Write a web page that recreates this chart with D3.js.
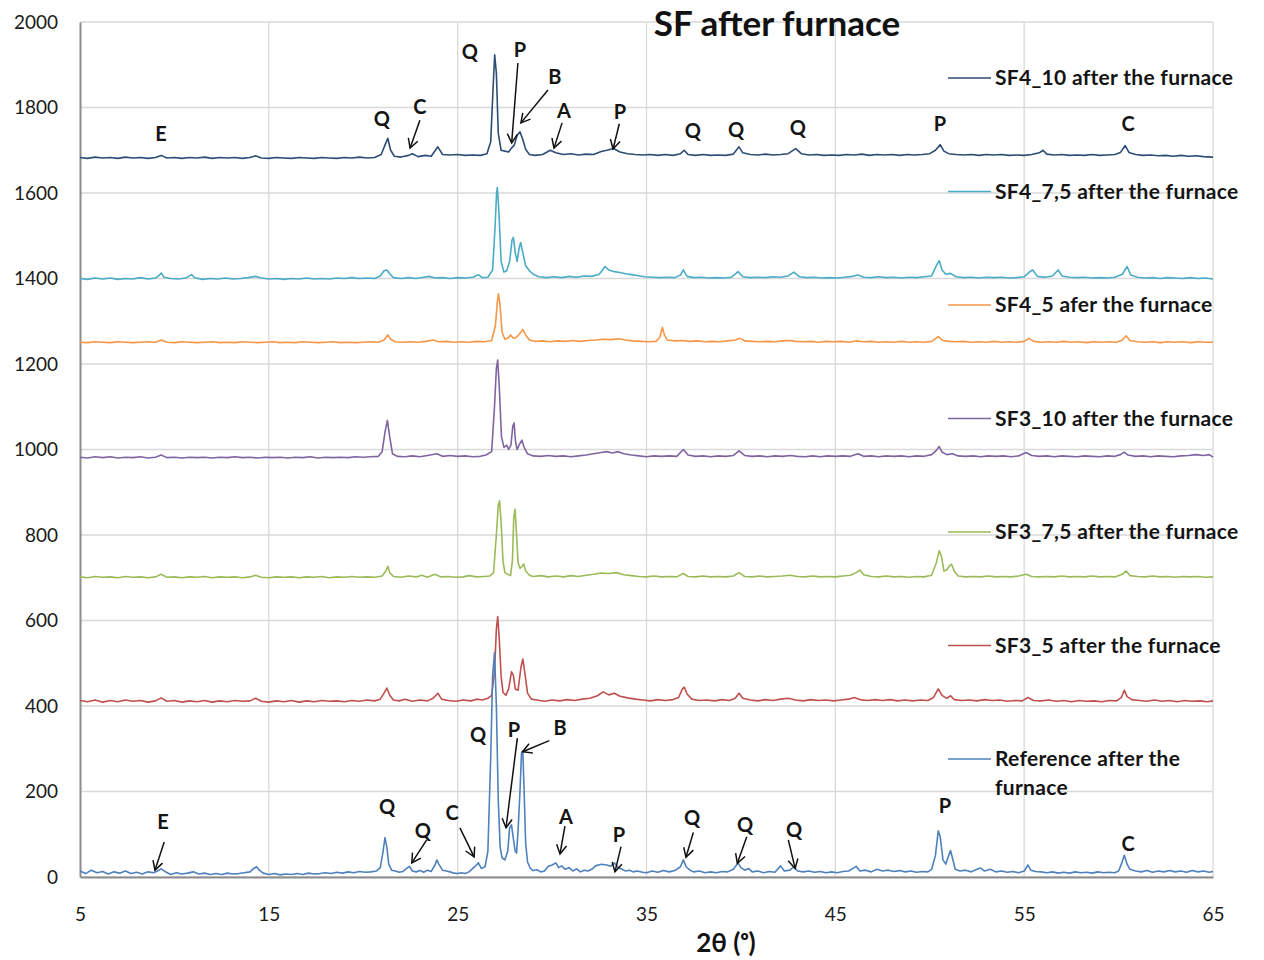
<!DOCTYPE html>
<html>
<head>
<meta charset="utf-8">
<script src="https://cdn.jsdelivr.net/npm/d3@7/dist/d3.min.js"></script>
<style>
  html, body { margin: 0; padding: 0; background: #fff; }
  svg { display: block; }
  text { font-family: Lato, "Open Sans", "DejaVu Sans", sans-serif; }
</style>
</head>
<body>
<svg id="chart" width="1264" height="960"></svg>
<script>
// ---- XRD patterns (2θ in degrees, intensity in counts, vertically offset) ----
const reference = [[5,14],[5.3,8],[5.6,16],[5.9,10],[6.2,13],[6.5,7],[6.8,12],[7.1,9],[7.4,14],[7.7,8],[8.0,11],[8.3,7],[8.6,12],[8.9,10],[9.1,14],[9.3,19],[9.5,13],[9.8,6],[10.1,10],[10.4,7],[10.7,9],[11.0,12],[11.3,7],[11.6,9],[11.9,6],[12.2,8],[12.5,6],[12.8,9],[13.1,7],[13.4,8],[13.7,10],[14.0,12],[14.2,20],[14.35,24],[14.5,16],[14.7,9],[15.0,6],[15.3,8],[15.6,5],[15.9,7],[16.2,6],[16.5,8],[16.8,6],[17.1,9],[17.4,7],[17.7,8],[18.0,10],[18.3,8],[18.6,11],[18.9,9],[19.2,12],[19.5,10],[19.8,13],[20.1,11],[20.4,12],[20.7,14],[20.9,22],[21.05,60],[21.15,92],[21.25,70],[21.35,30],[21.5,16],[21.7,14],[21.9,11],[22.1,13],[22.3,20],[22.45,25],[22.6,14],[22.8,12],[23.0,15],[23.2,11],[23.4,16],[23.6,13],[23.8,28],[23.9,40],[24.0,30],[24.2,16],[24.4,14],[24.6,12],[24.8,9],[25.0,8],[25.2,10],[25.4,8],[25.6,12],[25.8,20],[26.0,28],[26.1,33],[26.25,20],[26.45,24],[26.6,60],[26.75,280],[26.85,470],[26.95,525],[27.05,400],[27.15,180],[27.25,70],[27.35,45],[27.5,40],[27.65,60],[27.75,115],[27.85,122],[27.95,90],[28.05,60],[28.12,56],[28.2,110],[28.3,200],[28.38,290],[28.45,295],[28.52,200],[28.6,80],[28.7,35],[28.85,20],[29.0,15],[29.2,17],[29.4,12],[29.6,14],[29.8,25],[30.0,28],[30.2,33],[30.35,22],[30.5,26],[30.7,18],[30.9,22],[31.1,14],[31.3,19],[31.5,12],[31.7,16],[31.9,14],[32.1,18],[32.3,26],[32.6,30],[32.9,28],[33.1,25],[33.3,33],[33.5,22],[33.7,18],[33.9,14],[34.1,16],[34.3,12],[34.5,14],[34.8,11],[35.0,10],[35.3,14],[35.6,11],[35.9,15],[36.2,12],[36.5,15],[36.8,24],[36.95,40],[37.1,24],[37.3,16],[37.5,12],[37.8,14],[38.1,10],[38.4,12],[38.7,10],[39.0,13],[39.3,12],[39.6,18],[39.85,33],[40.0,22],[40.2,16],[40.4,20],[40.6,12],[40.9,14],[41.2,10],[41.5,13],[41.8,11],[42.1,26],[42.3,14],[42.6,16],[42.8,24],[43.0,14],[43.3,12],[43.6,14],[43.9,11],[44.2,13],[44.5,10],[44.8,12],[45.1,10],[45.4,13],[45.7,14],[46.0,22],[46.1,25],[46.3,14],[46.6,16],[46.9,12],[47.2,18],[47.5,14],[47.8,16],[48.1,13],[48.4,15],[48.7,12],[49.0,14],[49.3,11],[49.6,13],[49.9,12],[50.1,18],[50.3,50],[50.45,108],[50.55,95],[50.7,40],[50.85,30],[51.0,50],[51.1,62],[51.2,45],[51.35,18],[51.6,14],[51.9,16],[52.2,12],[52.5,18],[52.7,21],[52.9,14],[53.2,18],[53.5,12],[53.8,14],[54.1,11],[54.4,13],[54.7,10],[55.0,14],[55.2,28],[55.35,16],[55.6,13],[55.9,12],[56.2,10],[56.5,12],[56.8,9],[57.1,11],[57.4,9],[57.7,12],[58.0,10],[58.3,11],[58.6,9],[58.9,12],[59.2,10],[59.5,11],[59.8,10],[60.0,14],[60.15,30],[60.3,51],[60.45,30],[60.6,18],[60.9,14],[61.2,12],[61.5,15],[61.8,11],[62.1,14],[62.4,12],[62.7,15],[63.0,12],[63.3,14],[63.6,11],[63.9,15],[64.2,12],[64.5,14],[64.8,11],[65,13]];

const sf3_5 = [[5,413],[5.4,410],[5.8,414],[6.2,409],[6.6,413],[7.0,410],[7.4,414],[7.8,411],[8.2,413],[8.6,409],[9.0,412],[9.3,419],[9.6,411],[10.0,413],[10.4,409],[10.8,412],[11.2,410],[11.6,413],[12.0,409],[12.4,412],[12.8,410],[13.2,413],[13.6,411],[14.0,412],[14.3,418],[14.6,411],[15.0,409],[15.4,412],[15.8,410],[16.2,413],[16.6,409],[17.0,412],[17.4,410],[17.8,413],[18.2,411],[18.6,412],[19.0,410],[19.4,413],[19.8,411],[20.2,414],[20.6,412],[20.9,416],[21.1,430],[21.25,442],[21.4,425],[21.6,414],[21.9,412],[22.2,416],[22.6,411],[23.0,414],[23.4,412],[23.7,418],[23.95,430],[24.15,416],[24.5,413],[24.9,411],[25.3,414],[25.7,412],[26.0,416],[26.3,414],[26.6,418],[26.8,425],[26.95,480],[27.05,580],[27.12,609],[27.2,560],[27.3,470],[27.4,432],[27.55,425],[27.7,440],[27.85,480],[27.95,472],[28.05,440],[28.2,437],[28.35,490],[28.45,510],[28.55,480],[28.7,430],[28.9,416],[29.2,414],[29.6,411],[30.0,414],[30.4,412],[30.8,415],[31.2,413],[31.6,416],[32.0,418],[32.4,424],[32.7,433],[33.0,426],[33.3,430],[33.6,423],[34.0,419],[34.4,416],[34.8,414],[35.2,412],[35.6,415],[36.0,413],[36.4,415],[36.7,420],[36.9,440],[37.0,444],[37.15,428],[37.4,416],[37.8,413],[38.2,414],[38.6,412],[39.0,415],[39.4,413],[39.7,418],[39.9,430],[40.1,418],[40.5,414],[40.9,412],[41.3,415],[41.7,413],[42.1,416],[42.5,418],[42.9,414],[43.3,412],[43.7,415],[44.1,413],[44.5,414],[44.9,412],[45.3,414],[45.7,416],[46.0,420],[46.3,415],[46.7,413],[47.1,415],[47.5,413],[47.9,415],[48.3,412],[48.7,414],[49.1,412],[49.5,414],[49.9,413],[50.2,420],[50.45,440],[50.65,425],[50.9,418],[51.1,424],[51.3,415],[51.7,413],[52.1,414],[52.5,412],[52.9,415],[53.3,413],[53.7,414],[54.1,411],[54.5,413],[54.9,412],[55.2,420],[55.5,413],[55.9,412],[56.3,414],[56.7,411],[57.1,413],[57.5,410],[57.9,413],[58.3,411],[58.7,412],[59.1,410],[59.5,413],[59.9,412],[60.15,420],[60.3,437],[60.45,422],[60.7,415],[61.1,413],[61.5,411],[61.9,414],[62.3,411],[62.7,413],[63.1,410],[63.5,413],[63.9,411],[64.3,412],[64.7,410],[65,412]];

const sf3_75 = [[5,702],[5.4,700],[5.8,703],[6.2,701],[6.6,702],[7.0,700],[7.4,703],[7.8,701],[8.2,702],[8.6,700],[9.0,702],[9.3,708],[9.6,701],[10.0,702],[10.4,700],[10.8,702],[11.2,701],[11.6,703],[12.0,700],[12.4,702],[12.8,701],[13.2,702],[13.6,700],[14.0,702],[14.3,706],[14.6,701],[15.0,700],[15.4,702],[15.8,701],[16.2,702],[16.6,700],[17.0,702],[17.4,701],[17.8,703],[18.2,700],[18.6,702],[19.0,701],[19.4,703],[19.8,701],[20.2,702],[20.6,701],[21.0,704],[21.2,716],[21.3,727],[21.4,712],[21.6,703],[22.0,701],[22.4,704],[22.8,702],[23.1,706],[23.4,701],[23.8,708],[24.1,702],[24.5,703],[24.9,701],[25.3,702],[25.6,705],[26.0,702],[26.4,703],[26.7,704],[26.9,712],[27.05,800],[27.15,870],[27.22,880],[27.3,830],[27.4,740],[27.5,712],[27.65,708],[27.8,705],[27.9,740],[27.97,840],[28.04,860],[28.12,800],[28.2,735],[28.3,722],[28.4,726],[28.5,732],[28.6,716],[28.8,706],[29.0,703],[29.4,705],[29.8,702],[30.2,704],[30.6,702],[31.0,705],[31.4,703],[31.8,706],[32.2,708],[32.6,711],[33.0,710],[33.4,712],[33.8,707],[34.2,705],[34.6,703],[35.0,702],[35.4,704],[35.8,702],[36.2,703],[36.6,702],[36.95,710],[37.2,703],[37.6,702],[38.0,704],[38.4,702],[38.8,703],[39.2,702],[39.6,704],[39.9,712],[40.2,703],[40.6,702],[41.0,704],[41.4,702],[41.8,703],[42.2,704],[42.6,706],[43.0,703],[43.4,702],[43.8,704],[44.2,702],[44.6,703],[45.0,702],[45.4,704],[45.8,706],[46.1,712],[46.3,718],[46.5,707],[46.9,703],[47.3,702],[47.7,704],[48.1,702],[48.5,703],[48.9,701],[49.3,703],[49.7,702],[50.1,706],[50.35,735],[50.5,763],[50.62,750],[50.75,716],[50.9,718],[51.05,728],[51.15,732],[51.3,715],[51.5,704],[51.9,702],[52.3,703],[52.7,702],[53.1,704],[53.5,702],[53.9,703],[54.3,702],[54.7,704],[55.1,708],[55.4,703],[55.8,702],[56.2,703],[56.6,702],[57.0,704],[57.4,702],[57.8,703],[58.2,702],[58.6,704],[59.0,702],[59.4,703],[59.8,702],[60.2,708],[60.4,716],[60.6,705],[61.0,703],[61.4,702],[61.8,704],[62.2,702],[62.6,703],[63.0,701],[63.4,703],[63.8,702],[64.2,703],[64.6,701],[65,702]];

const sf3_10 = [[5,982],[5.4,980],[5.8,983],[6.2,981],[6.6,983],[7.0,980],[7.4,982],[7.8,981],[8.2,983],[8.6,980],[9.0,982],[9.3,987],[9.6,981],[10.0,982],[10.4,980],[10.8,982],[11.2,981],[11.6,982],[12.0,980],[12.4,982],[12.8,981],[13.2,983],[13.6,981],[14.0,982],[14.4,980],[14.8,982],[15.2,981],[15.6,982],[16.0,980],[16.4,982],[16.8,981],[17.2,983],[17.6,980],[18.0,982],[18.4,981],[18.8,982],[19.2,981],[19.6,983],[20.0,982],[20.4,983],[20.8,984],[21.0,995],[21.15,1040],[21.28,1068],[21.4,1030],[21.55,990],[21.8,984],[22.2,983],[22.6,985],[23.0,983],[23.4,986],[23.9,990],[24.2,984],[24.6,986],[25.0,984],[25.4,985],[25.8,983],[26.2,984],[26.5,987],[26.8,995],[26.95,1100],[27.05,1190],[27.12,1209],[27.2,1150],[27.32,1030],[27.45,1005],[27.6,1010],[27.7,1000],[27.82,1010],[27.92,1055],[27.99,1062],[28.06,1020],[28.15,1000],[28.25,1010],[28.4,1022],[28.52,1005],[28.7,990],[29.0,985],[29.4,984],[29.8,986],[30.2,984],[30.6,985],[31.0,983],[31.4,985],[31.8,987],[32.2,990],[32.6,993],[32.9,995],[33.2,992],[33.5,995],[33.8,990],[34.2,987],[34.6,985],[35.0,983],[35.4,985],[35.8,984],[36.2,985],[36.6,984],[36.95,1000],[37.2,987],[37.6,984],[38.0,985],[38.4,983],[38.8,985],[39.2,984],[39.6,986],[39.9,997],[40.2,986],[40.6,984],[41.0,985],[41.4,983],[41.8,985],[42.2,984],[42.6,986],[43.0,984],[43.4,983],[43.8,985],[44.2,983],[44.6,985],[45.0,984],[45.4,985],[45.8,984],[46.2,990],[46.5,984],[46.9,985],[47.3,983],[47.7,985],[48.1,984],[48.5,985],[48.9,983],[49.3,985],[49.7,984],[50.1,988],[50.35,998],[50.5,1007],[50.65,994],[50.9,988],[51.2,990],[51.5,985],[51.9,984],[52.3,985],[52.7,983],[53.1,985],[53.5,984],[53.9,985],[54.3,983],[54.7,985],[55.1,993],[55.4,986],[55.8,984],[56.2,985],[56.6,983],[57.0,985],[57.4,984],[57.8,983],[58.2,985],[58.6,984],[59.0,983],[59.4,985],[59.8,984],[60.1,988],[60.3,994],[60.5,987],[60.9,984],[61.3,985],[61.7,983],[62.1,985],[62.5,984],[62.9,983],[63.3,985],[63.7,986],[64.1,988],[64.5,986],[64.8,988],[65,982]];

const sf4_5 = [[5,1251],[5.4,1250],[5.8,1252],[6.2,1251],[6.6,1250],[7.0,1252],[7.4,1251],[7.8,1250],[8.2,1251],[8.6,1252],[9.0,1251],[9.3,1256],[9.6,1251],[10.0,1250],[10.4,1252],[10.8,1251],[11.2,1250],[11.6,1251],[12.0,1252],[12.4,1250],[12.8,1251],[13.2,1250],[13.6,1252],[14.0,1251],[14.4,1250],[14.8,1251],[15.2,1252],[15.6,1250],[16.0,1251],[16.4,1250],[16.8,1252],[17.2,1251],[17.6,1250],[18.0,1251],[18.4,1252],[18.8,1250],[19.2,1251],[19.6,1250],[20.0,1251],[20.4,1252],[20.8,1251],[21.1,1256],[21.3,1268],[21.45,1258],[21.7,1252],[22.1,1251],[22.5,1252],[22.9,1251],[23.3,1253],[23.7,1256],[24.0,1252],[24.4,1253],[24.8,1251],[25.2,1252],[25.6,1251],[26.0,1253],[26.4,1252],[26.8,1255],[27.0,1290],[27.1,1345],[27.16,1364],[27.24,1340],[27.35,1275],[27.5,1258],[27.7,1262],[27.8,1268],[27.95,1260],[28.1,1262],[28.3,1272],[28.45,1281],[28.6,1268],[28.8,1256],[29.1,1253],[29.5,1254],[29.9,1252],[30.3,1254],[30.7,1253],[31.1,1255],[31.5,1253],[31.9,1255],[32.3,1256],[32.7,1258],[33.1,1257],[33.5,1259],[33.9,1256],[34.3,1254],[34.7,1253],[35.1,1252],[35.5,1253],[35.7,1262],[35.84,1286],[35.95,1268],[36.1,1256],[36.5,1254],[36.9,1255],[37.3,1253],[37.7,1254],[38.1,1252],[38.5,1253],[38.9,1252],[39.3,1254],[39.7,1256],[39.95,1260],[40.2,1254],[40.6,1253],[41.0,1252],[41.4,1253],[41.8,1252],[42.2,1254],[42.6,1255],[42.9,1253],[43.3,1252],[43.7,1253],[44.1,1251],[44.5,1253],[44.9,1252],[45.3,1253],[45.7,1251],[46.1,1254],[46.5,1252],[46.9,1253],[47.3,1251],[47.7,1252],[48.1,1251],[48.5,1253],[48.9,1251],[49.3,1252],[49.7,1251],[50.1,1253],[50.45,1264],[50.7,1255],[51.0,1253],[51.4,1252],[51.8,1253],[52.2,1251],[52.6,1252],[53.0,1251],[53.4,1253],[53.8,1251],[54.2,1252],[54.6,1251],[55.0,1253],[55.25,1260],[55.5,1253],[55.9,1251],[56.3,1252],[56.7,1251],[57.1,1253],[57.5,1251],[57.9,1252],[58.3,1250],[58.7,1252],[59.1,1251],[59.5,1252],[59.9,1251],[60.2,1256],[60.4,1266],[60.6,1255],[61.0,1252],[61.4,1251],[61.8,1252],[62.2,1250],[62.6,1252],[63.0,1251],[63.4,1252],[63.8,1250],[64.2,1252],[64.6,1251],[65,1251]];

const sf4_75 = [[5,1400],[5.4,1398],[5.8,1401],[6.2,1399],[6.6,1401],[7.0,1398],[7.4,1400],[7.8,1399],[8.2,1402],[8.6,1399],[9.0,1401],[9.2,1408],[9.3,1413],[9.45,1403],[9.8,1400],[10.2,1399],[10.6,1401],[10.9,1409],[11.1,1401],[11.5,1398],[11.9,1400],[12.3,1399],[12.7,1401],[13.1,1399],[13.5,1400],[13.9,1402],[14.3,1405],[14.6,1401],[15.0,1399],[15.4,1400],[15.8,1398],[16.2,1400],[16.6,1399],[17.0,1401],[17.4,1399],[17.8,1400],[18.2,1399],[18.6,1401],[19.0,1400],[19.4,1402],[19.8,1400],[20.2,1401],[20.6,1400],[20.9,1406],[21.1,1418],[21.25,1420],[21.4,1411],[21.6,1402],[22.0,1400],[22.4,1402],[22.8,1400],[23.2,1403],[23.5,1405],[23.8,1401],[24.2,1402],[24.6,1400],[25.0,1402],[25.4,1401],[25.8,1403],[26.1,1409],[26.3,1402],[26.6,1403],[26.85,1420],[26.98,1520],[27.06,1600],[27.1,1613],[27.18,1560],[27.3,1440],[27.45,1415],[27.6,1418],[27.75,1440],[27.88,1490],[27.95,1496],[28.05,1460],[28.15,1440],[28.25,1470],[28.34,1484],[28.45,1460],[28.6,1430],[28.8,1418],[29.0,1410],[29.3,1404],[29.7,1402],[30.1,1404],[30.5,1402],[30.9,1405],[31.3,1403],[31.7,1406],[32.1,1405],[32.5,1410],[32.8,1428],[33.0,1420],[33.3,1416],[33.6,1414],[33.9,1411],[34.2,1409],[34.5,1407],[34.9,1404],[35.3,1403],[35.7,1402],[36.1,1403],[36.5,1402],[36.8,1408],[36.95,1420],[37.15,1405],[37.5,1402],[37.9,1403],[38.3,1401],[38.7,1402],[39.1,1401],[39.5,1403],[39.85,1416],[40.1,1404],[40.5,1402],[40.9,1403],[41.3,1402],[41.7,1404],[42.1,1403],[42.5,1406],[42.8,1415],[43.1,1404],[43.5,1402],[43.9,1403],[44.3,1401],[44.7,1402],[45.1,1401],[45.5,1403],[45.9,1405],[46.2,1408],[46.5,1403],[46.9,1402],[47.3,1404],[47.7,1402],[48.1,1403],[48.5,1401],[48.9,1403],[49.3,1402],[49.7,1404],[50.1,1406],[50.35,1430],[50.5,1442],[50.65,1420],[50.85,1410],[51.1,1412],[51.4,1404],[51.8,1402],[52.2,1403],[52.6,1401],[53.0,1403],[53.4,1402],[53.8,1403],[54.2,1401],[54.6,1402],[55.0,1404],[55.3,1416],[55.45,1420],[55.7,1405],[56.1,1403],[56.5,1406],[56.8,1420],[57.0,1406],[57.4,1403],[57.8,1402],[58.2,1403],[58.6,1401],[59.0,1402],[59.4,1401],[59.8,1403],[60.2,1410],[60.45,1428],[60.65,1408],[61.0,1403],[61.4,1401],[61.8,1402],[62.2,1400],[62.6,1402],[63.0,1401],[63.4,1400],[63.8,1402],[64.2,1400],[64.6,1401],[65,1399]];

const sf4_10 = [[5,1683],[5.4,1681],[5.8,1684],[6.2,1682],[6.6,1683],[7.0,1681],[7.4,1684],[7.8,1682],[8.2,1683],[8.6,1681],[9.0,1683],[9.3,1688],[9.6,1682],[10.0,1683],[10.4,1681],[10.8,1683],[11.2,1682],[11.6,1684],[12.0,1681],[12.4,1683],[12.8,1682],[13.2,1683],[13.6,1681],[14.0,1683],[14.3,1687],[14.6,1682],[15.0,1681],[15.4,1683],[15.8,1682],[16.2,1681],[16.6,1683],[17.0,1682],[17.4,1681],[17.8,1683],[18.2,1682],[18.6,1681],[19.0,1683],[19.4,1682],[19.8,1684],[20.2,1682],[20.6,1683],[20.95,1690],[21.15,1712],[21.3,1728],[21.45,1700],[21.65,1686],[22.0,1684],[22.4,1688],[22.6,1692],[22.9,1685],[23.3,1688],[23.6,1686],[23.95,1708],[24.2,1690],[24.6,1689],[25.0,1690],[25.4,1688],[25.8,1689],[26.2,1688],[26.55,1692],[26.75,1720],[26.88,1850],[26.96,1923],[27.05,1880],[27.15,1740],[27.3,1700],[27.5,1698],[27.7,1696],[27.85,1705],[28.0,1712],[28.15,1735],[28.3,1743],[28.45,1725],[28.6,1702],[28.8,1690],[29.1,1688],[29.5,1690],[29.9,1700],[30.2,1694],[30.6,1690],[31.0,1692],[31.4,1689],[31.8,1691],[32.2,1690],[32.6,1697],[32.9,1700],[33.25,1704],[33.6,1696],[34.0,1692],[34.4,1690],[34.8,1689],[35.2,1690],[35.6,1688],[36.0,1690],[36.4,1688],[36.8,1692],[37.0,1700],[37.2,1690],[37.6,1688],[38.0,1690],[38.4,1688],[38.8,1689],[39.2,1688],[39.6,1691],[39.9,1708],[40.1,1694],[40.5,1690],[40.9,1689],[41.3,1691],[41.7,1689],[42.1,1690],[42.5,1692],[42.9,1704],[43.2,1692],[43.6,1689],[44.0,1690],[44.4,1688],[44.8,1689],[45.2,1688],[45.6,1690],[46.0,1689],[46.4,1691],[46.8,1688],[47.2,1690],[47.6,1689],[48.0,1690],[48.4,1688],[48.8,1690],[49.2,1689],[49.6,1690],[50.0,1692],[50.3,1700],[50.55,1713],[50.75,1698],[51.0,1692],[51.4,1690],[51.8,1689],[52.2,1690],[52.6,1688],[53.0,1690],[53.4,1689],[53.8,1690],[54.2,1688],[54.6,1689],[55.0,1688],[55.4,1690],[55.8,1694],[56.0,1700],[56.2,1691],[56.6,1689],[57.0,1690],[57.4,1688],[57.8,1689],[58.2,1688],[58.6,1690],[59.0,1688],[59.4,1689],[59.8,1690],[60.1,1695],[60.35,1711],[60.55,1695],[60.9,1690],[61.3,1688],[61.7,1689],[62.1,1687],[62.5,1688],[62.9,1686],[63.3,1688],[63.7,1686],[64.1,1687],[64.5,1685],[65,1684]];

// Series in legend order (top to bottom)
const seriesNames = ["SF4_10 after the furnace", "SF4_7,5 after the furnace", "SF4_5 afer the furnace",
                     "SF3_10 after the furnace", "SF3_7,5 after the furnace", "SF3_5 after the furnace",
                     "Reference after the furnace"];
const seriesData = [sf4_10, sf4_75, sf4_5, sf3_10, sf3_75, sf3_5, reference];
const seriesColors = ["#2C4D75", "#4BACC6", "#F79646", "#8064A2", "#9BBB59", "#C0504D", "#4F81BD"];

// Axis ticks
const xTicks = [5, 15, 25, 35, 45, 55, 65];
const yTicks = [0, 200, 400, 600, 800, 1000, 1200, 1400, 1600, 1800, 2000];

// Phase labels: letter, label position [2θ, counts], optional arrow [from, to]
const phaseLabels = [
  // upper pattern (SF4_10)
  {t: "E", at: [9.29, 1738]},
  {t: "Q", at: [20.99, 1773]},
  {t: "C", at: [23.0, 1801], from: [23.0, 1770], to: [22.48, 1705]},
  {t: "Q", at: [25.65, 1930]},
  {t: "P", at: [28.30, 1934], from: [28.19, 1904], to: [27.86, 1717]},
  {t: "B", at: [30.15, 1871], from: [29.78, 1841], to: [28.35, 1764]},
  {t: "A", at: [30.63, 1792], from: [30.53, 1764], to: [30.10, 1705]},
  {t: "P", at: [33.60, 1789], from: [33.56, 1762], to: [33.23, 1703]},
  {t: "Q", at: [37.46, 1745]},
  {t: "Q", at: [39.74, 1747]},
  {t: "Q", at: [43.02, 1752]},
  {t: "P", at: [50.54, 1761]},
  {t: "C", at: [60.50, 1761]},
  // lower pattern (reference)
  {t: "E", at: [9.40, 129], from: [9.46, 82], to: [8.97, 16]},
  {t: "Q", at: [21.26, 164]},
  {t: "Q", at: [23.16, 108], from: [23.36, 87], to: [22.57, 33]},
  {t: "C", at: [24.70, 150], from: [25.12, 115], to: [25.87, 47]},
  {t: "Q", at: [26.08, 332]},
  {t: "P", at: [27.98, 344], from: [28.16, 325], to: [27.56, 115]},
  {t: "B", at: [30.42, 349], from: [29.85, 319], to: [28.44, 293]},
  {t: "A", at: [30.74, 140], from: [30.68, 119], to: [30.42, 54]},
  {t: "P", at: [33.54, 98], from: [33.65, 71], to: [33.33, 12]},
  {t: "Q", at: [37.41, 138], from: [37.48, 104], to: [37.09, 46]},
  {t: "Q", at: [40.22, 122], from: [40.31, 94], to: [39.81, 32]},
  {t: "Q", at: [42.81, 110], from: [42.51, 87], to: [42.87, 20]},
  {t: "P", at: [50.81, 166]},
  {t: "C", at: [60.50, 77]}
];

// ---- layout ----
const margin = {left: 80, right: 51, top: 22, bottom: 83};
const W = 1264, H = 960;
const svg = d3.select("#chart");

const x = d3.scaleLinear().domain([5, 65]).range([margin.left, W - margin.right]);
const y = d3.scaleLinear().domain([0, 2000]).range([H - margin.bottom, margin.top]);

// gridlines
const grid = svg.append("g").attr("stroke", "#d9d9d9").attr("stroke-width", 1.3);
grid.selectAll("line.h").data(yTicks).join("line")
  .attr("x1", x(5)).attr("x2", x(65))
  .attr("y1", d => y(d)).attr("y2", d => y(d));
grid.selectAll("line.v").data(xTicks.filter(d => d > 5)).join("line")
  .attr("y1", y(0)).attr("y2", y(2000))
  .attr("x1", d => x(d)).attr("x2", d => x(d));

// axes
const xAxis = svg.append("g")
  .attr("transform", `translate(0,${y(0)})`)
  .call(d3.axisBottom(x).tickValues(xTicks).tickSize(0).tickPadding(31).tickFormat(d3.format("d")));
const yAxis = svg.append("g")
  .attr("transform", `translate(${x(5)},0)`)
  .call(d3.axisLeft(y).tickValues(yTicks).tickSize(0).tickPadding(22).tickFormat(d3.format("d")));
[xAxis, yAxis].forEach(g => {
  g.select(".domain").attr("stroke", "#8c8c8c").attr("stroke-width", 2);
  g.selectAll("text").attr("font-family", "Lato, 'Open Sans', sans-serif")
    .attr("font-size", 19).attr("fill", "#1a1a1a");
});

// patterns
const line = d3.line().x(d => x(d[0])).y(d => y(d[1]));
svg.append("g").selectAll("path").data(seriesData).join("path")
  .attr("d", line)
  .attr("fill", "none")
  .attr("stroke", (d, i) => seriesColors[i])
  .attr("stroke-width", 1.6)
  .attr("stroke-linejoin", "round");

// legend
const legendTop = 78, legendStep = 113.5;
const legend = svg.append("g");
seriesNames.forEach((name, i) => {
  const ly = legendTop + i * legendStep;
  legend.append("line")
    .attr("x1", 948).attr("x2", 991).attr("y1", ly).attr("y2", ly)
    .attr("stroke", seriesColors[i]).attr("stroke-width", 1.6);
  const words = name === "Reference after the furnace" ? ["Reference after the", "furnace"] : [name];
  words.forEach((w, k) => {
    legend.append("text")
      .attr("x", 995).attr("y", ly + k * 29)
      .attr("dy", "0.35em")
      .attr("font-size", 21).attr("font-weight", 700).attr("fill", "#141414")
      .attr("letter-spacing", 0.3)
      .text(w);
  });
});

// phase labels and arrows
svg.append("defs").append("marker")
  .attr("id", "head").attr("viewBox", "-10 -6 12 12")
  .attr("refX", 0).attr("refY", 0)
  .attr("markerWidth", 12).attr("markerHeight", 12)
  .attr("markerUnits", "userSpaceOnUse")
  .attr("orient", "auto")
  .append("path").attr("d", "M-9,-5 L0,0 L-9,5")
  .attr("fill", "none").attr("stroke", "#111").attr("stroke-width", 1.5);

const ann = svg.append("g");
ann.selectAll("line").data(phaseLabels.filter(d => d.from)).join("line")
  .attr("x1", d => x(d.from[0])).attr("y1", d => y(d.from[1]))
  .attr("x2", d => x(d.to[0])).attr("y2", d => y(d.to[1]))
  .attr("stroke", "#111").attr("stroke-width", 1.5)
  .attr("marker-end", "url(#head)");
ann.selectAll("text").data(phaseLabels).join("text")
  .attr("x", d => x(d.at[0])).attr("y", d => y(d.at[1]))
  .attr("dy", "0.35em").attr("text-anchor", "middle")
  .attr("font-size", 20).attr("font-weight", 700).attr("fill", "#141414")
  .text(d => d.t);

// title and axis title
svg.append("text").attr("x", 777).attr("y", 24).attr("dy", "0.35em")
  .attr("text-anchor", "middle").attr("font-size", 35).attr("font-weight", 700)
  .attr("fill", "#111").text("SF after furnace");
svg.append("text").attr("x", 726).attr("y", 943).attr("dy", "0.35em")
  .attr("text-anchor", "middle").attr("font-size", 26).attr("font-weight", 700)
  .attr("fill", "#111").text("2θ (ᵒ)");
</script>
</body>
</html>
